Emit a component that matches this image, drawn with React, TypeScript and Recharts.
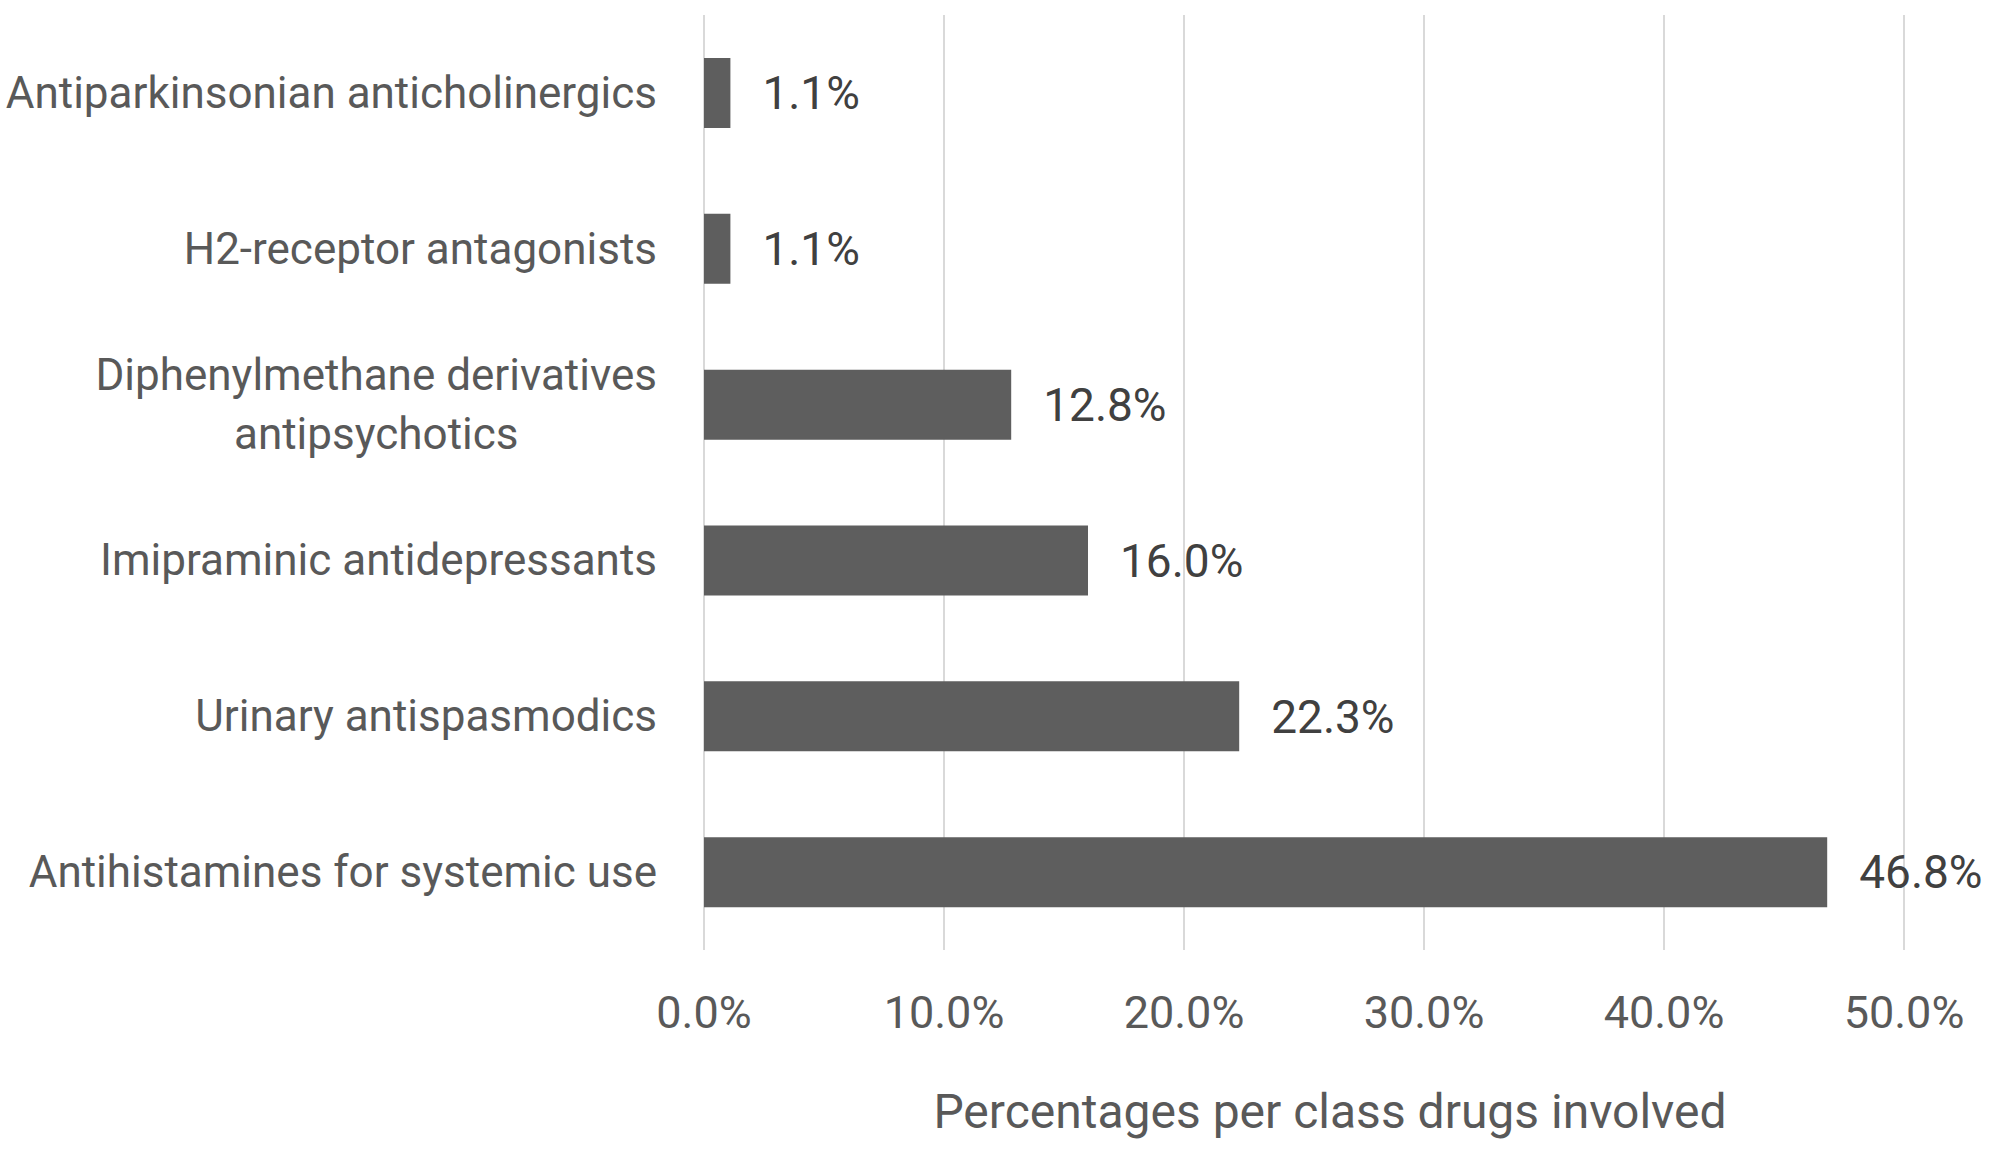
import React from 'react';
import { BarChart, Bar, XAxis, YAxis, CartesianGrid, LabelList } from 'recharts';

const categories = [
  'Antiparkinsonian anticholinergics',
  'H2-receptor antagonists',
  'Diphenylmethane derivatives\nantipsychotics',
  'Imipraminic antidepressants',
  'Urinary antispasmodics',
  'Antihistamines for systemic use',
];
const shares = [1.1, 1.1, 12.8, 16.0, 22.3, 46.8];
const xTicks = [0, 10, 20, 30, 40, 50];

const data = categories.map((name, i) => ({ name, value: shares[i] }));

const FONT = 'Roboto, "Liberation Sans", sans-serif';
const CAT_SIZE = 44;
const pct = (v: number) => `${v.toFixed(1)}%`;

// width of a line of text, used to centre wrapped category labels
const measure = (s: string) => {
  const ctx = document.createElement('canvas').getContext('2d');
  if (!ctx) return s.length * CAT_SIZE * 0.48;
  ctx.font = `${CAT_SIZE}px Roboto`;
  return ctx.measureText(s).width;
};

const CategoryTick = ({ x, y, payload }: any) => {
  const lines = String(payload.value).split('\n');
  const lh = 59;
  const start = -((lines.length - 1) * lh) / 2 + 15;
  const multi = lines.length > 1;
  const cx = multi ? x - Math.max(...lines.map(measure)) / 2 : x;
  return (
    <text
      x={cx}
      y={y}
      textAnchor={multi ? 'middle' : 'end'}
      fill="#595959"
      fontSize={CAT_SIZE}
      fontFamily={FONT}
    >
      {lines.map((line, i) => (
        <tspan key={i} x={cx} dy={i === 0 ? start : lh}>
          {line}
        </tspan>
      ))}
    </text>
  );
};

const ValueTick = ({ x, y, payload }: any) => (
  <text x={x} y={y + 78} textAnchor="middle" fill="#595959" fontSize={45} fontFamily={FONT}>
    {pct(payload.value)}
  </text>
);

export default function App() {
  return (
    <div style={{ position: 'absolute', left: 0, top: 0, background: '#fff' }}>
      <BarChart
        width={1993}
        height={1150}
        data={data}
        layout="vertical"
        margin={{ top: 15, right: 89, left: 0, bottom: 0 }}
      >
        <CartesianGrid horizontal={false} stroke="#d9d9d9" strokeWidth={2} />
        <XAxis
          type="number"
          domain={[0, 50]}
          ticks={xTicks}
          axisLine={false}
          tickLine={false}
          tickSize={0}
          tickMargin={0}
          height={200}
          tick={<ValueTick />}
          label={{
            value: 'Percentages per class drugs involved',
            position: 'insideBottom',
            offset: 22,
            dx: 26,
            fontSize: 48,
            fill: '#595959',
            fontFamily: FONT,
          }}
        />
        <YAxis
          type="category"
          dataKey="name"
          width={704}
          axisLine={false}
          tickLine={false}
          tickSize={0}
          tickMargin={47}
          interval={0}
          tick={<CategoryTick />}
        />
        <Bar dataKey="value" fill="#5e5e5e" barSize={70} isAnimationActive={false}>
          <LabelList
            dataKey="value"
            position="right"
            offset={32}
            formatter={(v: any) => pct(Number(v))}
            fill="#404040"
            fontSize={46}
            fontFamily={FONT}
          />
        </Bar>
      </BarChart>
    </div>
  );
}
